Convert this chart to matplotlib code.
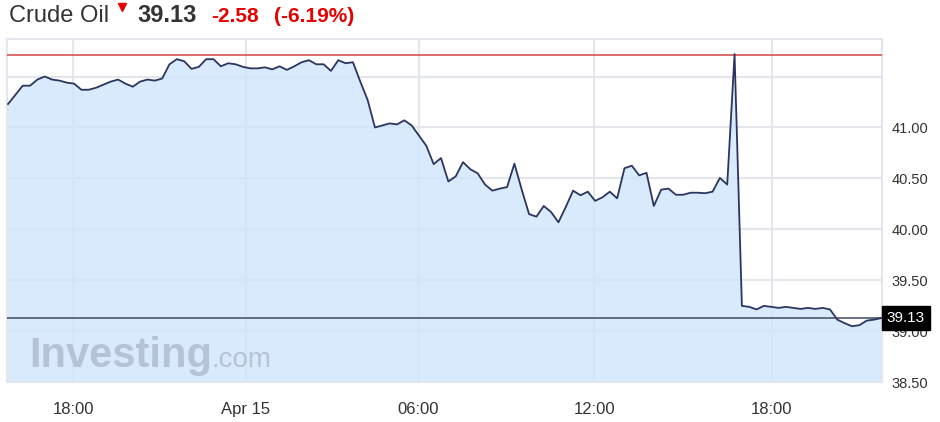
import numpy as np
import matplotlib
matplotlib.use("Agg")
from matplotlib import pyplot as plt
from matplotlib.lines import Line2D

plt.rcParams['font.family'] = ['Liberation Sans', 'DejaVu Sans']

# 15 min bars, Apr 14 15:45 -> Apr 15 21:30
prices = [41.23, 41.32, 41.41, 41.41, 41.47, 41.50, 41.47, 41.46, 41.44, 41.43,
          41.37, 41.37, 41.39, 41.42, 41.45, 41.47, 41.43, 41.40, 41.45, 41.47,
          41.46, 41.48, 41.62, 41.67, 41.65, 41.575, 41.595, 41.67, 41.67, 41.60,
          41.63, 41.62, 41.595, 41.58, 41.58, 41.59, 41.57, 41.60, 41.565, 41.60,
          41.64, 41.66, 41.62, 41.62, 41.555, 41.66, 41.63, 41.64, 41.45, 41.27,
          41.00, 41.02, 41.04, 41.03, 41.07, 41.02, 40.92, 40.82, 40.64, 40.70,
          40.47, 40.52, 40.66, 40.59, 40.55, 40.44, 40.38, 40.40, 40.415, 40.645,
          40.39, 40.15, 40.125, 40.23, 40.17, 40.07, 40.22, 40.38, 40.335, 40.37,
          40.28, 40.315, 40.37, 40.305, 40.60, 40.625, 40.53, 40.555, 40.23, 40.39,
          40.40, 40.34, 40.34, 40.36, 40.36, 40.355, 40.37, 40.505, 40.44, 41.72,
          39.25, 39.24, 39.215, 39.25, 39.24, 39.23, 39.24, 39.23, 39.22, 39.23,
          39.22, 39.23, 39.215, 39.115, 39.08, 39.05, 39.06, 39.105, 39.115, 39.13]

prev_close = 41.71
last = 39.13
change = -2.58
change_pct = -6.19

xtick_labels = ['18:00', 'Apr 15', '06:00', '12:00', '18:00']
xtick_pos = [8.86, 32.4, 55.94, 79.88, 104.06]
ytick_vals = [38.5, 39.0, 39.5, 40.0, 40.5, 41.0, 41.5]

red = '#e60000'
grid_c = '#e4e6ee'

fig = plt.figure(figsize=(9.4, 4.22), dpi=100)
ax = fig.add_axes([7.3 / 940, 1 - 382.3 / 422, (881.7 - 7.3) / 940, (382.3 - 39.3) / 422])

x = np.arange(len(prices))
ymin, ymax = 38.51, 41.865
ax.fill_between(x, prices, ymin - 1, color='#cfe5fc', alpha=0.8, lw=0, zorder=2)
ax.plot(x, prices, color='#2b3560', lw=1.3, zorder=4)
ax.axhline(prev_close, color='#d9534f', lw=1.2, zorder=3)
ax.axhline(last, color='#3f4a63', lw=1.1, zorder=3)

ax.set_xlim(-0.1, 119.05)
ax.set_ylim(ymin, ymax)
ax.set_xticks(xtick_pos)
ax.set_xticklabels(xtick_labels)
ax.set_yticks(ytick_vals)
ax.set_yticklabels(['%.2f' % v if v < 41.4 else '' for v in ytick_vals])
ax.yaxis.tick_right()
ax.tick_params(axis='y', length=0, pad=7, labelsize=10.5, labelcolor='#333333')
ax.tick_params(axis='x', length=0, pad=14, labelsize=12, labelcolor='#333333')
ax.grid(True, color=grid_c, lw=1.5, zorder=1)
ax.set_axisbelow(True)
for s in ax.spines.values():
    s.set_color(grid_c)
    s.set_linewidth(1.5)

# last price box
ax.annotate('%.2f' % last, xy=(1.0, last), xycoords=('axes fraction', 'data'),
            xytext=(3.5, 0), textcoords='offset points', ha='left', va='center',
            color='white', fontsize=11,
            bbox=dict(boxstyle='square,pad=0.33', fc='black', ec='black'),
            annotation_clip=False, zorder=6)

# watermark
fig.text(29 / 940, 1 - 367 / 422, 'Investing', fontsize=30, fontweight='bold',
         color='#b4c3d6', va='baseline', ha='left')
fig.text(211 / 940, 1 - 367 / 422, '.com', fontsize=20, color='#b4c3d6',
         va='baseline', ha='left')

# header
base = 1 - 21.5 / 422
fig.text(9 / 940, base, 'Crude Oil', fontsize=17, color='#333333', va='baseline')
fig.add_artist(Line2D([122 / 940], [1 - 7 / 422], marker='v', markersize=6,
                      color=red, transform=fig.transFigure))
fig.text(137 / 940, base, '%.2f' % last, fontsize=17, fontweight='bold',
         color='#333333', va='baseline')
fig.text(211 / 940, base, '%.2f' % change, fontsize=15, fontweight='bold',
         color=red, va='baseline')
fig.text(274 / 940, base, '(%.2f%%)' % change_pct, fontsize=15, fontweight='bold',
         color=red, va='baseline')

fig.savefig('out.png', dpi=100)
